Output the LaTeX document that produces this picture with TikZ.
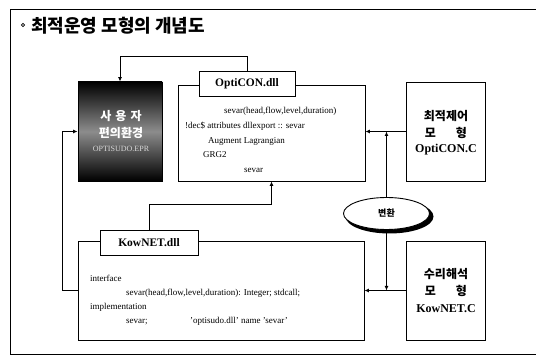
\documentclass[tikz,border=0pt]{standalone}
\usepackage{fontspec}
\setmainfont{Liberation Serif}
\newfontfamily\kr{Noto Sans CJK KR}
\usetikzlibrary{arrows.meta,shapes.geometric,calc}
\tikzset{
  box/.style={draw=black, line width=0.9pt, fill=white, inner sep=0pt},
  labelbox/.style={box, font=\fontsize{11.5}{13}\selectfont\bfseries},
  bodytxt/.style={anchor=base west, inner sep=0pt, font=\fontsize{9}{10}\selectfont},
  modeltxt/.style={inner sep=0pt, align=center, font=\fontsize{12}{17}\selectfont\bfseries},
  conn/.style={line width=1pt, -{Latex[length=4.5pt,width=4pt]}},
  frame/.style={line width=1pt}
}
\begin{document}
\begin{tikzpicture}[x=1pt,y=-1pt]
\useasboundingbox (0,0) rectangle (536,358);
% outer frame
\draw[frame] (536,10) -- (10,10) -- (10,355) -- (536,355);
% title
\draw[line width=0.6pt] (23,25) circle (1.6);
\node[anchor=base west, inner sep=0pt, font=\kr\bfseries\fontsize{18}{20}\selectfont] (title) at (31,33) {최적운영 모형의 개념도};

% user environment box
\node[draw=black, line width=0.9pt, minimum width=84pt, minimum height=99pt, inner sep=0pt,
      top color=black, bottom color=black, middle color=black!45] (user) at (120,131.5) {};
\node[inner sep=0pt, text=white, font=\kr\bfseries\fontsize{12}{14}\selectfont] (u1) at (121,116) {사\hspace{4pt}용\hspace{4pt}자};
\node[inner sep=0pt, text=white, font=\kr\bfseries\fontsize{12}{14}\selectfont] (u2) at (121,132.5) {편의환경};
\node[inner sep=0pt, text=white!85!black, font=\fontsize{8}{9}\selectfont] (u3) at (121,149) {OPTISUDO.EPR};

% OptiCON.dll
\node[box, minimum width=187pt, minimum height=96pt] (ocd) at (271.5,133) {};
\node[labelbox, minimum width=96pt, minimum height=25pt] (ocl) at (247,83.5) {OptiCON.dll};
\node[bodytxt] (o1) at (224,114) {sevar(head,flow,level,duration)};
\node[bodytxt] (o2) at (185,129) {!dec\$ attributes dllexport :: sevar};
\node[bodytxt] (o3) at (208,144) {Augment Lagrangian};
\node[bodytxt] (o4) at (203,157.5) {GRG2};
\node[bodytxt] (o5) at (244,173) {sevar};

% OptiCON.C
\node[box, minimum width=79pt, minimum height=99pt] (occ) at (445.5,131.5) {};
\node[modeltxt, font=\kr\bfseries\fontsize{12}{14}\selectfont] (oc1) at (446,116) {최적제어};
\node[modeltxt, font=\kr\bfseries\fontsize{12}{14}\selectfont] (oc2) at (446,132.5) {모\hspace{20pt}형};
\node[modeltxt] (oc3) at (446,150) {OptiCON.C};

% KowNET.dll
\node[box, minimum width=286pt, minimum height=99pt] (kwd) at (221,290.5) {};
\node[labelbox, minimum width=98pt, minimum height=25pt] (kwl) at (149,242.5) {KowNET.dll};
\node[bodytxt] (k1) at (90,282) {interface};
\node[bodytxt] (k2) at (126,296) {sevar(head,flow,level,duration): Integer; stdcall;};
\node[bodytxt] (k3) at (90,310) {implementation};
\node[bodytxt] (k4) at (126,324) {sevar;};
\node[bodytxt] (k5) at (190,324) {'optisudo.dll' name 'sevar'};

% KowNET.C
\node[box, minimum width=79pt, minimum height=99pt] (kwc) at (445.5,290.5) {};
\node[modeltxt, font=\kr\bfseries\fontsize{12}{14}\selectfont] (kc1) at (446,274) {수리해석};
\node[modeltxt, font=\kr\bfseries\fontsize{12}{14}\selectfont] (kc2) at (446,291) {모\hspace{20pt}형};
\node[modeltxt] (kc3) at (446,309) {KowNET.C};

% conversion ellipse
\node[ellipse, fill=black, minimum width=88pt, minimum height=34pt, inner sep=0pt] (convs) at (389.5,216.5) {};
\node[ellipse, draw=black, line width=0.9pt, fill=white, minimum width=86pt, minimum height=32pt, inner sep=0pt,
      font=\kr\bfseries\fontsize{9}{10}\selectfont] (conv) at (386.5,213.5) {변환};

% connectors
\draw[conn] (ocl.north) -- ++(0,-14) -| (user.north);
\draw[conn] (kwd.west) -- ++(-15,0) |- (user.west);
\draw[conn] (kwl.north) -- ++(0,-25) -| (ocd.south);
\draw[conn] (occ.west) -- (occ.west -| ocd.east);
\draw[conn] (conv.north) -- (conv.north |- occ.west);
\draw[conn] (kwc.west) -- (kwc.west -| kwd.east);
\draw[conn] (conv.south) -- (conv.south |- kwc.west);
\end{tikzpicture}
\end{document}
